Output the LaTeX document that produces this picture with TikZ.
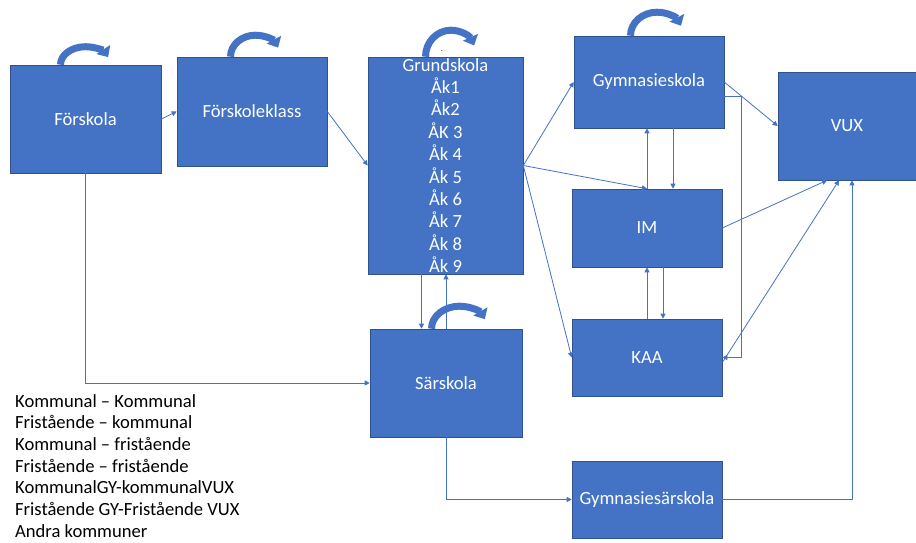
\documentclass[tikz,border=0pt]{standalone}
\usepackage{fontspec}
\setmainfont{Carlito}
\usetikzlibrary{arrows.meta,calc}
\definecolor{boxblue}{HTML}{4472C4}
\definecolor{boxedge}{HTML}{2F528F}
\begin{document}
\begin{tikzpicture}[x=1pt,y=-1pt,
  box/.style={draw=boxedge, line width=0.6pt, fill=boxblue, text=white,
    font=\fontsize{18.6}{22.4}\selectfont, inner sep=0pt, align=center},
  conn/.style={draw=boxblue, line width=0.8pt, -{Triangle[length=5pt,width=5pt]}},
  selfloop/.style={draw=boxblue, line width=7pt, -{Triangle[length=9pt,width=16pt]}},
  legend/.style={anchor=base west, inner sep=0pt, font=\fontsize{18.6}{22}\selectfont}]
\useasboundingbox (0,0) rectangle (916,542);

% boxes
\node[box, minimum width=151pt, minimum height=108pt] (fsk) at (85.5,119) {Förskola};
\node[box, minimum width=150pt, minimum height=109pt] (fkl) at (252,111.5) {Förskoleklass};
\node[box, minimum width=155pt, minimum height=217pt] (grund) at (445.5,165.5)
  {Grundskola\\Åk1\\Åk2\\ÅK 3\\Åk 4\\Åk 5\\Åk 6\\Åk 7\\Åk 8\\Åk 9};
\node[box, minimum width=150pt, minimum height=92pt] (gym) at (649,82) {Gymnasieskola};
\node[box, minimum width=138pt, minimum height=108pt] (vux) at (847,126) {VUX};
\node[box, minimum width=150pt, minimum height=78pt] (im) at (647,228) {IM};
\node[box, minimum width=150pt, minimum height=77pt] (kaa) at (647,357.5) {KAA};
\node[box, minimum width=152pt, minimum height=108pt] (sar) at (446,383) {Särskola};
\node[box, minimum width=150pt, minimum height=77pt] (gsar) at (647,499.5) {Gymnasiesärskola};
\node[inner sep=0pt, font=\fontsize{8}{8}\selectfont] (dot) at (442,51) {.};

% self loops
\draw[selfloop] ([xshift=-25pt]fsk.north) arc[start angle=180, end angle=25, x radius=25pt, y radius=18pt];
\draw[selfloop] ([xshift=-21.5pt]fkl.north) arc[start angle=180, end angle=25, x radius=25pt, y radius=21.5pt];
\draw[selfloop] ([xshift=-20pt]grund.north) arc[start angle=180, end angle=25, x radius=25.5pt, y radius=26.5pt];
\draw[selfloop] ([xshift=-18.5pt]gym.north) arc[start angle=180, end angle=25, x radius=26.5pt, y radius=23.5pt];
\draw[selfloop] ([xshift=-14.5pt]sar.north) arc[start angle=180, end angle=25, x radius=28pt, y radius=22.5pt];

% connectors
\draw[conn] (fsk.east) -- (fkl.west);
\draw[conn] (fkl.east) -- (grund.west);
\draw[conn] (fsk.south) |- (sar.west);
\draw[conn] ([xshift=-24pt]grund.south) -- ([xshift=-24pt]grund.south |- sar.north);
\draw[conn] (sar.north) -- (sar.north |- grund.south);
\draw[conn] (grund.east) -- (gym.west);
\draw[conn] (grund.east) -- (im.north);
\draw[conn] (grund.east) -- (kaa.west);
\draw[conn] (im.north) -- (im.north |- gym.south);
\draw[conn] ([xshift=24pt]gym.south) -- ([xshift=24pt]gym.south |- im.north);
\draw[conn] (kaa.north) -- (kaa.north |- im.south);
\draw[conn] ([xshift=16pt]im.south) -- ([xshift=16pt]im.south |- kaa.north);
\draw[conn] (gym.east) -- (vux.west);
\draw[conn] ([yshift=-14pt]gym.east) -- ++(17,0) |- (kaa.east);
\draw[conn] (im.east) -- ([xshift=-20pt]vux.south);
\draw[conn] ([yshift=-5pt]kaa.east) -- ([xshift=-8pt]vux.south);
\draw[conn] (gsar.east) -| ([xshift=5pt]vux.south);
\draw[conn] (sar.south) |- (gsar.west);

% legend
\node[legend] (l1) at (15,407) {Kommunal – Kommunal};
\node[legend] (l2) at (15,428.7) {Fristående – kommunal};
\node[legend] (l3) at (15,450.4) {Kommunal – fristående};
\node[legend] (l4) at (15,472.1) {Fristående – fristående};
\node[legend] (l5) at (15,493.8) {KommunalGY-kommunalVUX};
\node[legend] (l6) at (15,515.5) {Fristående GY-Fristående VUX};
\node[legend] (l7) at (15,537.2) {Andra kommuner};
\end{tikzpicture}
\end{document}
